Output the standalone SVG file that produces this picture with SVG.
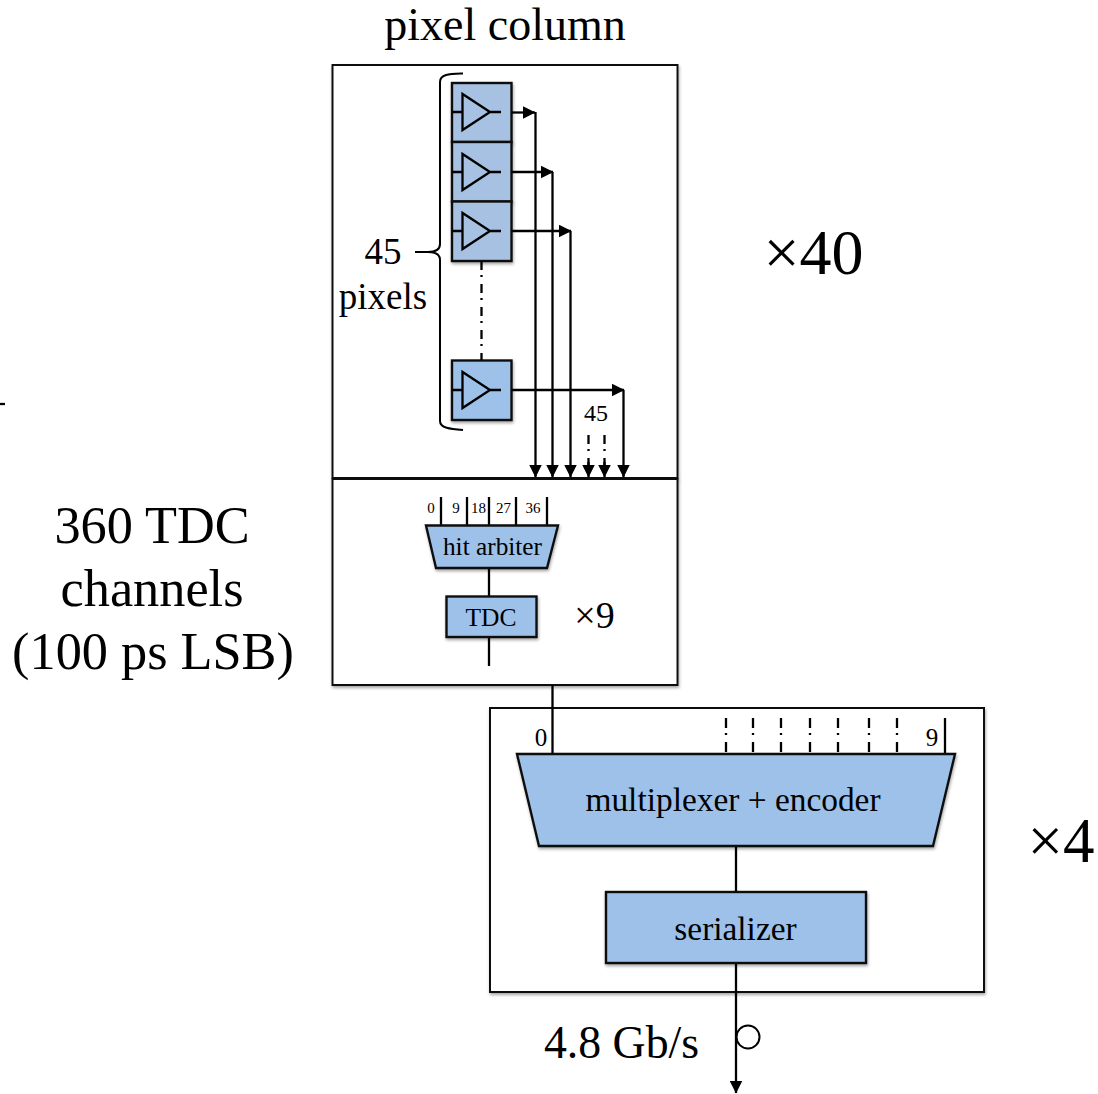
<svg xmlns="http://www.w3.org/2000/svg" width="1098" height="1094" viewBox="0 0 1098 1094">
<style>
text{font-family:"Liberation Serif","Times New Roman",serif;fill:#000;text-anchor:middle}
.box{fill:#fff;stroke:#111;stroke-width:2}
.blue{fill:#9dc1e9;stroke:#111;stroke-width:2.4;stroke-linejoin:miter}
.grey{fill:#a6c1e2}
.ln{fill:none;stroke:#000;stroke-width:2.300}
.dd{fill:none;stroke:#000;stroke-width:2.300;stroke-dasharray:9 5 2 7}
.amp{fill:none;stroke:#000;stroke-width:2.300}
.s{filter:url(#sh)}
</style>
<defs>
<filter id="sh" x="-10%" y="-10%" width="125%" height="125%"><feDropShadow dx="0.8" dy="2" stdDeviation="1.6" flood-color="#000" flood-opacity="0.35"/></filter>
<marker id="ah" viewBox="0 0 12 12" refX="11.500" refY="6" markerWidth="13" markerHeight="13" markerUnits="userSpaceOnUse" orient="auto"><path d="M0 0L12 6L0 12Z" fill="#000"/></marker>
<g id="amp"><path class="amp" d="M452 0H462M490 0H501M462.500-18V18L490 0Z"/></g>
</defs>
<g id="column-box" class="s"><rect class="box" x="332.500" y="65" width="345" height="413"/></g>
<g id="tdc-box" class="s"><rect class="box" x="332.500" y="479" width="345" height="206"/></g>
<g id="mux-box" class="s"><rect class="box" x="490" y="708" width="494" height="284"/></g>
<g id="pixel-1"><rect class="blue grey s" x="452" y="83" width="59.500" height="59"/><use href="#amp" y="112"/></g>
<g id="pixel-2"><rect class="blue grey s" x="452" y="142" width="59.500" height="59.500"/><use href="#amp" y="172"/></g>
<g id="pixel-3"><rect class="blue grey s" x="452" y="201.500" width="59.500" height="59.500"/><use href="#amp" y="231"/></g>
<g id="pixel-45"><rect class="blue s" x="452" y="360.500" width="59.500" height="59.500"/><use href="#amp" y="390"/></g>
<g id="connectors">
<path class="dd" d="M481.500 261V360"/>
<path class="ln" d="M511.500 112.500H535" marker-end="url(#ah)"/>
<path class="ln" d="M511.500 172H553" marker-end="url(#ah)"/>
<path class="ln" d="M511.500 231H571" marker-end="url(#ah)"/>
<path class="ln" d="M511.500 390H624" marker-end="url(#ah)"/>
<path class="ln" d="M535.500 112V477" marker-end="url(#ah)"/>
<path class="ln" d="M552.500 172V477" marker-end="url(#ah)"/>
<path class="ln" d="M570.500 231V477" marker-end="url(#ah)"/>
<path class="ln" d="M623.500 390V477" marker-end="url(#ah)"/>
<path class="dd" d="M588.500 435V470"/><path class="ln" d="M588.500 462V477" marker-end="url(#ah)"/>
<path class="dd" d="M604.500 435V470"/><path class="ln" d="M604.500 462V477" marker-end="url(#ah)"/>
<path class="ln" d="M441 497V525M467 497V525M489 497V525M516 497V525M547 497V525"/>
<path class="ln" d="M489 568V596M489 637V666"/>
<path class="ln" d="M552.500 685V754M945 718V754"/>
<path class="dd" style="stroke-dasharray:10 5 2 7" d="M726 718V752M753 718V752M781 718V752M810 718V752M838 718V752M869 718V752M897 718V752"/>
<path class="ln" d="M736 846V892"/>
<path class="ln" d="M736 963V1093" marker-end="url(#ah)"/>
<path class="ln" d="M0 404H5"/>
</g>
<g id="brace"><path class="ln" style="stroke-width:2" d="M463 73.500C450 74 440 74 440 82V244C440 250 434 252 428 252H415M428 252C434 252 440 254 440 260V421C440 428 450 429 463 430"/></g>
<g id="hit-arbiter"><path class="blue s" d="M426 525.500H558L547 568H436Z"/><text x="492.500" y="555" font-size="25.300">hit arbiter</text></g>
<g id="tdc"><rect class="blue s" x="446.500" y="596.500" width="90" height="40.500"/><text x="491" y="626" font-size="25.500">TDC</text></g>
<g id="mux"><path class="blue s" d="M517 754H955L933 846H539Z"/><text x="733" y="811" font-size="33.400">multiplexer + encoder</text></g>
<g id="serializer"><rect class="blue s" x="606" y="892" width="260" height="71"/><text x="735.500" y="939.500" font-size="33.400">serializer</text></g>
<g id="output-mark"><circle cx="748" cy="1037" r="11.500" fill="none" stroke="#000" stroke-width="2"/></g>
<g id="labels">
<text x="505" y="40" font-size="46">pixel column</text>
<text x="383" y="264" font-size="37">45</text>
<text x="383" y="308.500" font-size="37">pixels</text>
<text x="813.500" y="273.500" font-size="64">×40</text>
<text x="596" y="421" font-size="24">45</text>
<text x="431" y="513" font-size="15">0</text>
<text x="456" y="513" font-size="15">9</text>
<text x="478.500" y="513" font-size="15">18</text>
<text x="503.500" y="513" font-size="15">27</text>
<text x="533" y="513" font-size="15">36</text>
<text x="594.500" y="628" font-size="38">×9</text>
<text x="152" y="543" font-size="52.300">360 TDC</text>
<text x="152" y="606" font-size="52.300">channels</text>
<text x="153" y="669" font-size="52.300">(100 ps LSB)</text>
<text x="541" y="746" font-size="25">0</text>
<text x="932" y="746" font-size="25">9</text>
<text x="1061" y="861.500" font-size="63">×4</text>
<text x="621.500" y="1057.500" font-size="45.800">4.8 Gb/s</text>
</g>
</svg>
